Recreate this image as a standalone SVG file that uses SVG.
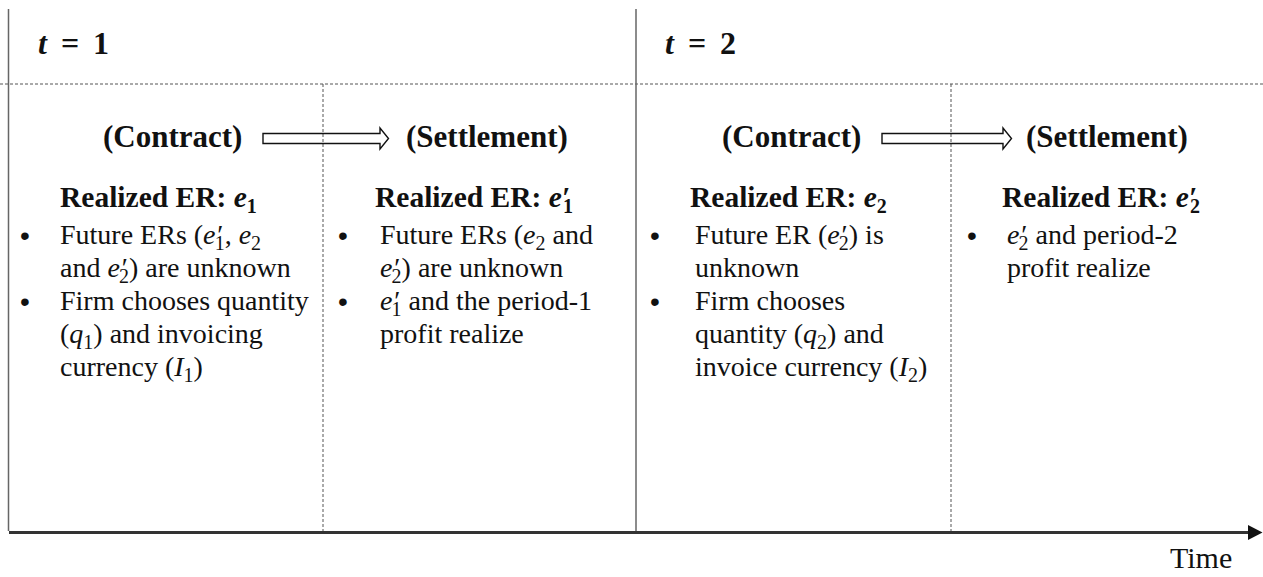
<svg xmlns="http://www.w3.org/2000/svg" width="1263" height="577" viewBox="0 0 1263 577">
<defs>
<style>
.body{font-family:"Liberation Serif","Times New Roman",serif;font-size:28px;fill:#111}
.hdr{font-family:"Liberation Serif","Times New Roman",serif;font-size:31px;font-weight:bold;fill:#111}
.ttl{font-family:"Liberation Serif","Times New Roman",serif;font-size:29.5px;font-weight:bold;fill:#111}
.math{font-family:"Liberation Serif","Times New Roman",serif;font-size:32px;font-weight:bold;fill:#111}
.bul{font-family:"Liberation Sans",Arial,sans-serif;font-size:28px;fill:#111;text-anchor:middle}
.it{font-style:italic}
.sub{font-size:20px}
.pr{font-style:italic}
.dot{stroke:#555;stroke-width:1;stroke-dasharray:3 2;fill:none}
.solid{stroke:#666;stroke-width:1.5;fill:none}
.blk{stroke:#111;stroke-width:1.4;fill:none}
</style>
</defs>
<rect width="1263" height="577" fill="#fff"/>

<g id="grid">
<line class="dot" x1="0" y1="84" x2="1263" y2="84"/>
<line class="dot" x1="323" y1="84" x2="323" y2="531"/>
<line class="dot" x1="951" y1="84" x2="951" y2="531"/>
<line class="solid" x1="8.5" y1="9" x2="8.5" y2="531" stroke="#444"/>
<line class="solid" x1="636" y1="9" x2="636" y2="531"/>
</g>

<g id="connectors">
<line x1="9" y1="532.5" x2="1249" y2="532.5" stroke="#333" stroke-width="3"/>
<path d="M1248,525 L1262.5,532.5 L1248,540 Z" fill="#111"/>
<path class="blk" d="M263,133.5 H380 V128 L388.5,138.5 L380,149 V143.5 H263 Z"/>
<path class="blk" d="M882,133.5 H1003 V128 L1011.5,138.5 L1003,149 V143.5 H882 Z"/>
</g>

<g id="time-label">
<text class="body" x="1170" y="568" style="font-size:30px">Time</text>
</g>

<g id="period1">
<text class="math" y="54"><tspan class="it" x="38">t</tspan><tspan x="61">=</tspan><tspan x="93">1</tspan></text>
</g>
<g id="period2">
<text class="math" y="54"><tspan class="it" x="665">t</tspan><tspan x="688">=</tspan><tspan x="720">2</tspan></text>
</g>

<g id="contract1">
<text class="hdr" x="103" y="147">(Contract)</text>
<text class="ttl" x="60" y="207">Realized ER: <tspan class="it">e</tspan><tspan class="sub" dy="6">1</tspan></text>
<text class="bul" x="25" y="245">•</text>
<text class="body" x="60" y="244">Future ERs (<tspan class="it">e</tspan><tspan class="pr">′</tspan><tspan class="sub" dx="-7" dy="6">1</tspan><tspan dy="-6">, </tspan><tspan class="it">e</tspan><tspan class="sub" dy="6">2</tspan></text>
<text class="body" x="60" y="277">and <tspan class="it">e</tspan><tspan class="pr">′</tspan><tspan class="sub" dx="-7" dy="6">2</tspan><tspan dy="-6">) are unknown</tspan></text>
<text class="bul" x="25" y="311">•</text>
<text class="body" x="60" y="310">Firm chooses quantity</text>
<text class="body" x="60" y="343">(<tspan class="it">q</tspan><tspan class="sub" dy="6">1</tspan><tspan dy="-6">) and invoicing</tspan></text>
<text class="body" x="60" y="376">currency (<tspan class="it">I</tspan><tspan class="sub" dy="6">1</tspan><tspan dy="-6">)</tspan></text>
</g>

<g id="settlement1">
<text class="hdr" x="406" y="147">(Settlement)</text>
<text class="ttl" x="375" y="207">Realized ER: <tspan class="it">e</tspan><tspan class="pr">′</tspan><tspan class="sub" dx="-7" dy="6">1</tspan></text>
<text class="bul" x="343" y="245">•</text>
<text class="body" x="380" y="244">Future ERs (<tspan class="it">e</tspan><tspan class="sub" dy="6">2</tspan><tspan dy="-6"> and</tspan></text>
<text class="body" x="380" y="277"><tspan class="it">e</tspan><tspan class="pr">′</tspan><tspan class="sub" dx="-7" dy="6">2</tspan><tspan dy="-6">) are unknown</tspan></text>
<text class="bul" x="343" y="311">•</text>
<text class="body" x="380" y="310"><tspan class="it">e</tspan><tspan class="pr">′</tspan><tspan class="sub" dx="-7" dy="6">1</tspan><tspan dy="-6"> and the period-1</tspan></text>
<text class="body" x="380" y="343">profit realize</text>
</g>

<g id="contract2">
<text class="hdr" x="722" y="147">(Contract)</text>
<text class="ttl" x="690" y="207">Realized ER: <tspan class="it">e</tspan><tspan class="sub" dy="6">2</tspan></text>
<text class="bul" x="655" y="245">•</text>
<text class="body" x="695" y="244">Future ER (<tspan class="it">e</tspan><tspan class="pr">′</tspan><tspan class="sub" dx="-7" dy="6">2</tspan><tspan dy="-6">) is</tspan></text>
<text class="body" x="695" y="277">unknown</text>
<text class="bul" x="655" y="311">•</text>
<text class="body" x="695" y="310">Firm chooses</text>
<text class="body" x="695" y="343">quantity (<tspan class="it">q</tspan><tspan class="sub" dy="6">2</tspan><tspan dy="-6">) and</tspan></text>
<text class="body" x="695" y="376">invoice currency (<tspan class="it">I</tspan><tspan class="sub" dy="6">2</tspan><tspan dy="-6">)</tspan></text>
</g>

<g id="settlement2">
<text class="hdr" x="1026" y="147">(Settlement)</text>
<text class="ttl" x="1002" y="207">Realized ER: <tspan class="it">e</tspan><tspan class="pr">′</tspan><tspan class="sub" dx="-7" dy="6">2</tspan></text>
<text class="bul" x="972" y="245">•</text>
<text class="body" x="1007" y="244"><tspan class="it">e</tspan><tspan class="pr">′</tspan><tspan class="sub" dx="-7" dy="6">2</tspan><tspan dy="-6"> and period-2</tspan></text>
<text class="body" x="1007" y="277">profit realize</text>
</g>
</svg>
